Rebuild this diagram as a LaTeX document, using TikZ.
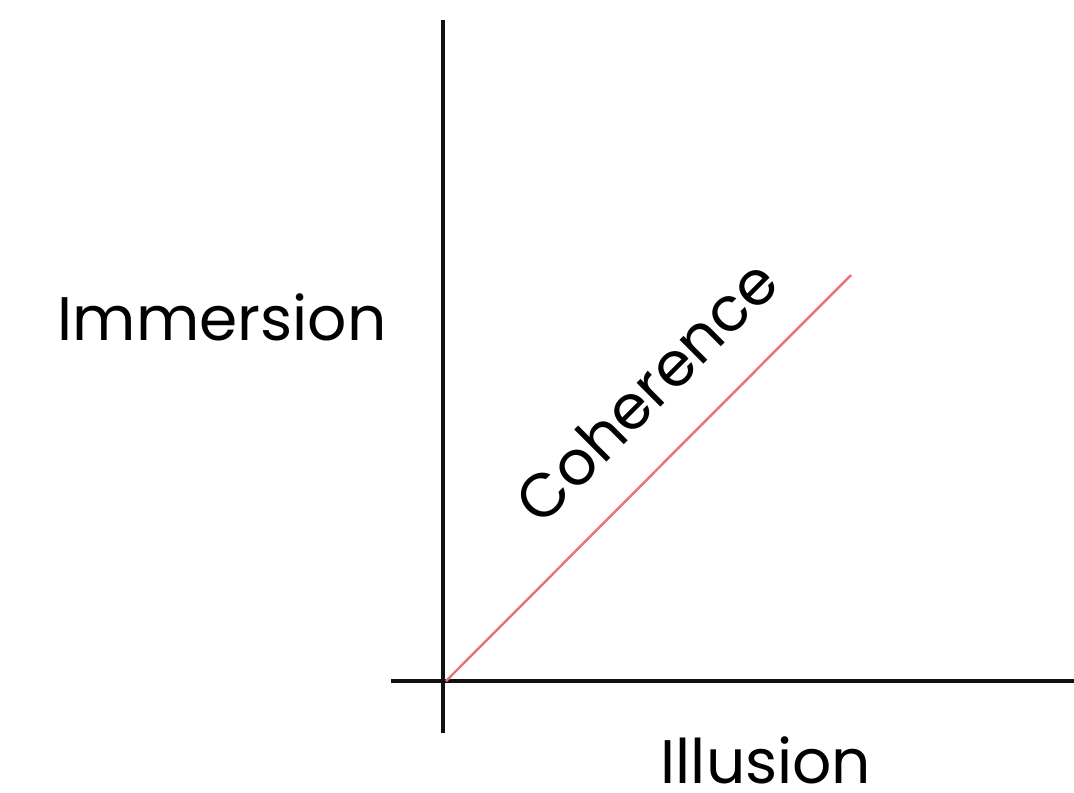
\documentclass[tikz,border=0pt]{standalone}
\usepackage{fontspec}
\setmainfont{Poppins}
\usepackage{xcolor}
\definecolor{cohRed}{HTML}{F0707A}
\definecolor{axInk}{HTML}{111111}
\usetikzlibrary{calc}

\begin{document}
\begin{tikzpicture}[x=0.02cm, y=-0.02cm]
    \tikzset{
      axis line/.style={axInk, line width=1.9pt},
      big label/.style={font=\fontsize{35}{42}\selectfont, inner sep=0pt},
    }
    \useasboundingbox (0,0) rectangle (1074,792);
    \coordinate (O) at (443,681);
    \coordinate (yTop) at (443,20);
    \coordinate (yBot) at (443,733);
    \coordinate (xLeft) at (391,681);
    \coordinate (xRight) at (1074,681);
    \coordinate (cStart) at (446,681);
    \coordinate (cEnd) at (851,275);
    \draw[axis line] (yBot)--(yTop);
    \draw[axis line] (xLeft)--(xRight);
    \draw[cohRed, line width=1.4pt] (cStart)--(cEnd);
    \node[big label, anchor=base] (imm) at (222,340) {Immersion};
    \node[big label, anchor=base] (ill) at (766,783) {Illusion};
    \node[big label, rotate=45] (coh) at (646,391) {Coherence};
  \end{tikzpicture}
\end{document}
